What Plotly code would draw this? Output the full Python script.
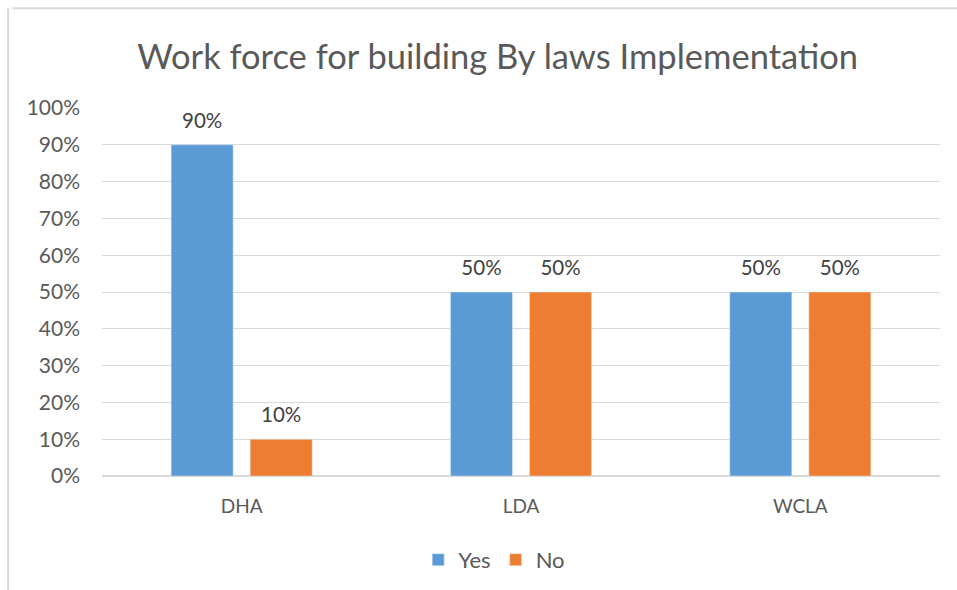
import plotly.graph_objects as go

categories = ["DHA", "LDA", "WCLA"]
yes_vals = [0.90, 0.50, 0.50]
no_vals = [0.10, 0.50, 0.50]
yticks = [i / 10 for i in range(11)]
ytick_text = [f"{i*10}%" for i in range(11)]

font_family = "Lato, 'Open Sans', sans-serif"

fig = go.Figure()
for name, vals, color in [("Yes", yes_vals, "#5B9BD5"), ("No", no_vals, "#ED7D31")]:
    fig.add_trace(go.Bar(x=categories, y=vals, name=name, marker_color=color,
                         offsetgroup=name))
for name, vals in [("Yes", yes_vals), ("No", no_vals)]:
    fig.add_trace(go.Scatter(
        x=categories, y=vals, mode="markers+text", showlegend=False, hoverinfo="skip",
        offsetgroup=name, marker=dict(size=17, opacity=0),
        text=[f"{v*100:.0f}%" for v in vals], textposition="top center",
        textfont=dict(size=20.5, color="#404040", family=font_family), cliponaxis=False,
    ))

fig.update_layout(
    width=957, height=590,
    margin=dict(l=102, r=17, t=108, b=114, autoexpand=False),
    paper_bgcolor="white", plot_bgcolor="white",
    barmode="group", bargap=0.434, bargroupgap=0.215,
    scattermode="group", scattergap=0.434,
    title=dict(text="Work force for building By laws Implementation",
               x=0.52, xanchor="center", y=0.903, yanchor="middle",
               font=dict(size=34.5, color="#595959", family=font_family)),
    font=dict(family=font_family, color="#595959", size=19),
    showlegend=True,
    legend=dict(orientation="h", x=0.468, xanchor="center", y=-0.228, yanchor="middle",
                font=dict(size=22, color="#595959"), traceorder="normal",
                itemwidth=30),
)
fig.update_yaxes(range=[0, 1], tickvals=yticks, ticktext=ytick_text,
                 showgrid=True, gridcolor="#D9D9D9", gridwidth=1.3,
                 zeroline=True, zerolinecolor="#D9D9D9", zerolinewidth=1.5,
                 ticks="", ticklabelstandoff=21, showline=False, automargin=False,
                 tickfont=dict(size=21, color="#595959"))
fig.update_xaxes(showgrid=False, ticks="", showline=False, automargin=False,
                 tickfont=dict(size=19, color="#595959"), ticklabelstandoff=17)

# chart border (top and left edges visible in reference)
fig.add_shape(type="line", xref="paper", yref="paper", x0=-0.107, x1=1.03, y0=1.271, y1=1.271,
              line=dict(color="#D9D9D9", width=2))
fig.add_shape(type="line", xref="paper", yref="paper", x0=-0.112, x1=-0.112, y0=1.271, y1=-0.33,
              line=dict(color="#D9D9D9", width=2))

fig.write_html("out.html")
